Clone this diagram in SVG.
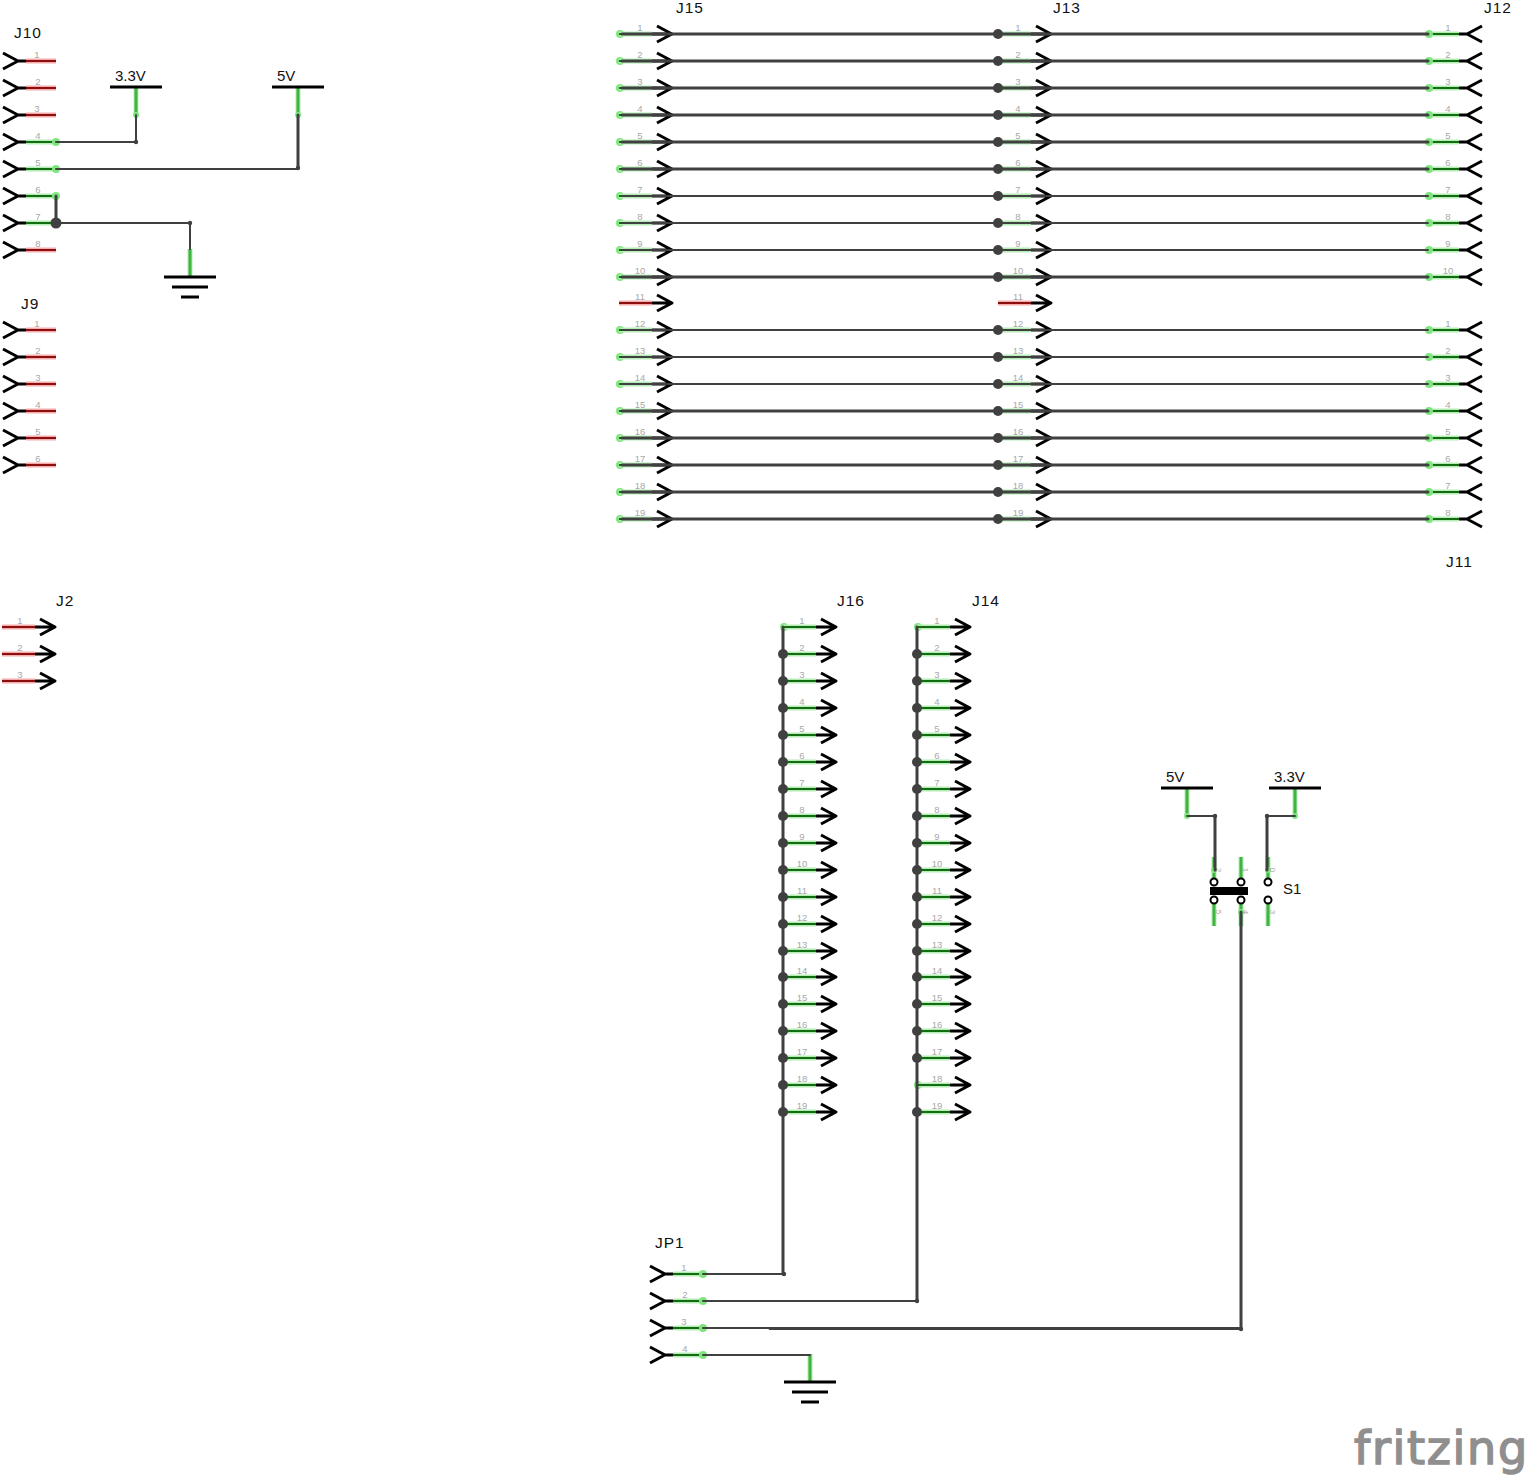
<svg xmlns="http://www.w3.org/2000/svg" width="1527" height="1476" viewBox="0 0 1527 1476">
<style>
text{font-family:"Liberation Sans",Arial,sans-serif}
.lbl{font-size:15.5px;fill:#111;letter-spacing:1px}
.v{font-size:15px;fill:#111}
.n{font-size:9.5px;fill:#a8a8a8;text-anchor:middle}
.sn{font-size:8px}
.w,.wt{stroke:#404040;fill:none;stroke-linecap:round;stroke-linejoin:round}
.w{stroke-width:3}
.wt{stroke-width:2}
.j{fill:#404040}
.k{stroke:#000;stroke-width:3;fill:none;stroke-linejoin:round}
.gg{stroke:#b4ecb4;stroke-width:5;fill:none}
.gc{stroke:#126d12;stroke-width:2;fill:none}
.rg{stroke:#f2aaaa;stroke-width:5;fill:none}
.rc{stroke:#8c0f0f;stroke-width:2;fill:none}
.gs{stroke:#3fb53f;stroke-width:3;fill:none}
.gh{stroke:#b4ecb4;stroke-width:5;fill:none}
.d{fill:#7fe67f}
.ring{fill:#fff;stroke:#000;stroke-width:2}
</style>
<defs>
<path id="aR" class="k" d="M33 0H52M38-8L53 0L38 8"/>
<path id="aL" class="k" d="M1-8L16 0L1 8M16 0H24"/>
<g id="gR"><path class="gg" d="M0 0H33"/><path class="gc" d="M0 0H33"/><use href="#aR"/></g>
<g id="gRd"><circle class="d" cx="1" cy="0" r="4"/><path class="gg" d="M0 0H33"/><path class="gc" d="M0 0H33"/><use href="#aR"/></g>
<g id="rR"><path class="rg" d="M0 0H33"/><path class="rc" d="M0 0H33"/><use href="#aR"/></g>
<g id="gL"><path class="gg" d="M24 0H54"/><path class="gc" d="M24 0H54"/><circle class="d" cx="54" cy="0" r="4"/><use href="#aL"/></g>
<g id="rL"><path class="rg" d="M24 0H54"/><path class="rc" d="M24 0H54"/><use href="#aL"/></g>
<g id="gnd"><path class="gh" d="M0-28V0"/><path class="gs" d="M0-28V0"/><path class="k" d="M-26 0H26M-18 10H18M-9 20H9"/></g>
<g id="pwr"><path class="gh" d="M0 0V28"/><path class="gs" d="M0 0V28"/><circle class="d" cx="0" cy="28" r="3"/><path class="k" d="M-26 0H26"/></g>
</defs>

<g id="J10">
<text class="lbl" x="14" y="37.500">J10</text>
<use href="#rL" x="2" y="61"/><use href="#rL" x="2" y="88"/><use href="#rL" x="2" y="115"/><use href="#gL" x="2" y="142"/><use href="#gL" x="2" y="169"/><use href="#gL" x="2" y="196"/><use href="#gL" x="2" y="223"/><use href="#rL" x="2" y="250"/>
<text class="n" x="37" y="58">1</text><text class="n" x="38" y="85">2</text><text class="n" x="37" y="112">3</text><text class="n" x="38" y="139">4</text><text class="n" x="38" y="166">5</text><text class="n" x="38" y="193">6</text><text class="n" x="38" y="220">7</text><text class="n" x="38" y="247">8</text>
</g>
<g id="V33a"><use href="#pwr" x="136" y="87"/><text class="v" x="115" y="81">3.3V</text></g>
<g id="V5a"><use href="#pwr" x="298" y="87"/><text class="v" x="277" y="81">5V</text></g>
<g id="GNDa"><use href="#gnd" x="190" y="277"/></g>

<g id="J9">
<text class="lbl" x="21" y="308.500">J9</text>
<use href="#rL" x="2" y="330"/><use href="#rL" x="2" y="357"/><use href="#rL" x="2" y="384"/><use href="#rL" x="2" y="411"/><use href="#rL" x="2" y="438"/><use href="#rL" x="2" y="465"/>
<text class="n" x="37" y="327">1</text><text class="n" x="38" y="354">2</text><text class="n" x="38" y="381">3</text><text class="n" x="38" y="408">4</text><text class="n" x="38" y="435">5</text><text class="n" x="38" y="462">6</text>
</g>

<g id="J2">
<text class="lbl" x="56" y="605.500">J2</text>
<use href="#rR" x="2" y="627"/><use href="#rR" x="2" y="654"/><use href="#rR" x="2" y="681"/>
<text class="n" x="20" y="624">1</text><text class="n" x="20" y="651">2</text><text class="n" x="20" y="678">3</text>
</g>

<g id="J15">
<text class="lbl" x="676" y="12.500">J15</text>
<use href="#gRd" x="619" y="34"/><use href="#gRd" x="619" y="61"/><use href="#gRd" x="619" y="88"/><use href="#gRd" x="619" y="115"/><use href="#gRd" x="619" y="142"/><use href="#gRd" x="619" y="169"/><use href="#gRd" x="619" y="196"/><use href="#gRd" x="619" y="223"/><use href="#gRd" x="619" y="250"/><use href="#gRd" x="619" y="277"/><use href="#rR" x="619" y="303"/><use href="#gRd" x="619" y="330"/><use href="#gRd" x="619" y="357"/><use href="#gRd" x="619" y="384"/><use href="#gRd" x="619" y="411"/><use href="#gRd" x="619" y="438"/><use href="#gRd" x="619" y="465"/><use href="#gRd" x="619" y="492"/><use href="#gRd" x="619" y="519"/>
<text class="n" x="640" y="31">1</text><text class="n" x="640" y="58">2</text><text class="n" x="640" y="85">3</text><text class="n" x="640" y="112">4</text><text class="n" x="640" y="139">5</text><text class="n" x="640" y="166">6</text><text class="n" x="640" y="193">7</text><text class="n" x="640" y="220">8</text><text class="n" x="640" y="247">9</text><text class="n" x="640" y="274">10</text><text class="n" x="640" y="300">11</text><text class="n" x="640" y="327">12</text><text class="n" x="640" y="354">13</text><text class="n" x="640" y="381">14</text><text class="n" x="640" y="408">15</text><text class="n" x="640" y="435">16</text><text class="n" x="640" y="462">17</text><text class="n" x="640" y="489">18</text><text class="n" x="640" y="516">19</text>
</g>

<g id="J13">
<text class="lbl" x="1053" y="12.500">J13</text>
<use href="#gR" x="998" y="34"/><use href="#gR" x="998" y="61"/><use href="#gR" x="998" y="88"/><use href="#gR" x="998" y="115"/><use href="#gR" x="998" y="142"/><use href="#gR" x="998" y="169"/><use href="#gR" x="998" y="196"/><use href="#gR" x="998" y="223"/><use href="#gR" x="998" y="250"/><use href="#gR" x="998" y="277"/><use href="#rR" x="998" y="303"/><use href="#gR" x="998" y="330"/><use href="#gR" x="998" y="357"/><use href="#gR" x="998" y="384"/><use href="#gR" x="998" y="411"/><use href="#gR" x="998" y="438"/><use href="#gR" x="998" y="465"/><use href="#gR" x="998" y="492"/><use href="#gR" x="998" y="519"/>
<text class="n" x="1018" y="31">1</text><text class="n" x="1018" y="58">2</text><text class="n" x="1018" y="85">3</text><text class="n" x="1018" y="112">4</text><text class="n" x="1018" y="139">5</text><text class="n" x="1018" y="166">6</text><text class="n" x="1018" y="193">7</text><text class="n" x="1018" y="220">8</text><text class="n" x="1018" y="247">9</text><text class="n" x="1018" y="274">10</text><text class="n" x="1018" y="300">11</text><text class="n" x="1018" y="327">12</text><text class="n" x="1018" y="354">13</text><text class="n" x="1018" y="381">14</text><text class="n" x="1018" y="408">15</text><text class="n" x="1018" y="435">16</text><text class="n" x="1018" y="462">17</text><text class="n" x="1018" y="489">18</text><text class="n" x="1018" y="516">19</text>
</g>

<g id="J12">
<text class="lbl" x="1484" y="12.500">J12</text>
<g transform="translate(1483 0) scale(-1 1)"><use href="#gL" x="0" y="34"/><use href="#gL" x="0" y="61"/><use href="#gL" x="0" y="88"/><use href="#gL" x="0" y="115"/><use href="#gL" x="0" y="142"/><use href="#gL" x="0" y="169"/><use href="#gL" x="0" y="196"/><use href="#gL" x="0" y="223"/><use href="#gL" x="0" y="250"/><use href="#gL" x="0" y="277"/></g>
<text class="n" x="1448" y="31">1</text><text class="n" x="1448" y="58">2</text><text class="n" x="1448" y="85">3</text><text class="n" x="1448" y="112">4</text><text class="n" x="1448" y="139">5</text><text class="n" x="1448" y="166">6</text><text class="n" x="1448" y="193">7</text><text class="n" x="1448" y="220">8</text><text class="n" x="1448" y="247">9</text><text class="n" x="1448" y="274">10</text>
</g>

<g id="J11">
<text class="lbl" x="1446" y="566.500">J11</text>
<g transform="translate(1483 0) scale(-1 1)"><use href="#gL" x="0" y="330"/><use href="#gL" x="0" y="357"/><use href="#gL" x="0" y="384"/><use href="#gL" x="0" y="411"/><use href="#gL" x="0" y="438"/><use href="#gL" x="0" y="465"/><use href="#gL" x="0" y="492"/><use href="#gL" x="0" y="519"/></g>
<text class="n" x="1448" y="327">1</text><text class="n" x="1448" y="354">2</text><text class="n" x="1448" y="381">3</text><text class="n" x="1448" y="408">4</text><text class="n" x="1448" y="435">5</text><text class="n" x="1448" y="462">6</text><text class="n" x="1448" y="489">7</text><text class="n" x="1448" y="516">8</text>
</g>

<g id="J16">
<text class="lbl" x="837" y="605.500">J16</text>
<use href="#gRd" x="783" y="627"/><use href="#gR" x="783" y="654"/><use href="#gR" x="783" y="681"/><use href="#gR" x="783" y="708"/><use href="#gR" x="783" y="735"/><use href="#gR" x="783" y="762"/><use href="#gR" x="783" y="789"/><use href="#gR" x="783" y="816"/><use href="#gR" x="783" y="843"/><use href="#gR" x="783" y="870"/><use href="#gR" x="783" y="897"/><use href="#gR" x="783" y="924"/><use href="#gR" x="783" y="951"/><use href="#gR" x="783" y="977"/><use href="#gR" x="783" y="1004"/><use href="#gR" x="783" y="1031"/><use href="#gR" x="783" y="1058"/><use href="#gR" x="783" y="1085"/><use href="#gR" x="783" y="1112"/>
<text class="n" x="802" y="624">1</text><text class="n" x="802" y="651">2</text><text class="n" x="802" y="678">3</text><text class="n" x="802" y="705">4</text><text class="n" x="802" y="732">5</text><text class="n" x="802" y="759">6</text><text class="n" x="802" y="786">7</text><text class="n" x="802" y="813">8</text><text class="n" x="802" y="840">9</text><text class="n" x="802" y="867">10</text><text class="n" x="802" y="894">11</text><text class="n" x="802" y="921">12</text><text class="n" x="802" y="948">13</text><text class="n" x="802" y="974">14</text><text class="n" x="802" y="1001">15</text><text class="n" x="802" y="1028">16</text><text class="n" x="802" y="1055">17</text><text class="n" x="802" y="1082">18</text><text class="n" x="802" y="1109">19</text>
</g>

<g id="J14">
<text class="lbl" x="972" y="605.500">J14</text>
<use href="#gRd" x="917" y="627"/><use href="#gR" x="917" y="654"/><use href="#gR" x="917" y="681"/><use href="#gR" x="917" y="708"/><use href="#gR" x="917" y="735"/><use href="#gR" x="917" y="762"/><use href="#gR" x="917" y="789"/><use href="#gR" x="917" y="816"/><use href="#gR" x="917" y="843"/><use href="#gR" x="917" y="870"/><use href="#gR" x="917" y="897"/><use href="#gR" x="917" y="924"/><use href="#gR" x="917" y="951"/><use href="#gR" x="917" y="977"/><use href="#gR" x="917" y="1004"/><use href="#gR" x="917" y="1031"/><use href="#gR" x="917" y="1058"/><use href="#gRd" x="917" y="1085"/><use href="#gR" x="917" y="1112"/>
<text class="n" x="937" y="624">1</text><text class="n" x="937" y="651">2</text><text class="n" x="937" y="678">3</text><text class="n" x="937" y="705">4</text><text class="n" x="937" y="732">5</text><text class="n" x="937" y="759">6</text><text class="n" x="937" y="786">7</text><text class="n" x="937" y="813">8</text><text class="n" x="937" y="840">9</text><text class="n" x="937" y="867">10</text><text class="n" x="937" y="894">11</text><text class="n" x="937" y="921">12</text><text class="n" x="937" y="948">13</text><text class="n" x="937" y="974">14</text><text class="n" x="937" y="1001">15</text><text class="n" x="937" y="1028">16</text><text class="n" x="937" y="1055">17</text><text class="n" x="937" y="1082">18</text><text class="n" x="937" y="1109">19</text>
</g>

<g id="JP1">
<text class="lbl" x="655" y="1247.500">JP1</text>
<use href="#gL" x="649" y="1274"/><use href="#gL" x="649" y="1301"/><use href="#gL" x="649" y="1328"/><use href="#gL" x="649" y="1355"/>
<text class="n" x="684" y="1271">1</text><text class="n" x="685" y="1298">2</text><text class="n" x="684" y="1325">3</text><text class="n" x="685" y="1352">4</text>
</g>
<g id="GNDb"><use href="#gnd" x="810" y="1382"/></g>
<g id="V5b"><use href="#pwr" x="1187" y="788"/><text class="v" x="1166" y="782">5V</text></g>
<g id="V33b"><use href="#pwr" x="1295" y="788"/><text class="v" x="1274" y="782">3.3V</text></g>

<g id="S1">
<path class="gh" d="M1214 857V878M1241 857V878M1268 857V878M1214 904V926M1241 904V926M1268 904V926"/>
<path class="gs" d="M1214 857V878M1241 857V878M1268 857V878M1214 904V926M1241 904V926M1268 904V926"/>
<circle class="d" cx="1214" cy="870" r="3"/><circle class="d" cx="1268" cy="870" r="3"/><circle class="d" cx="1241" cy="912" r="3"/>
<circle class="ring" cx="1214" cy="882" r="3.5"/><circle class="ring" cx="1241" cy="882" r="3.5"/><circle class="ring" cx="1268" cy="882" r="3.5"/><circle class="ring" cx="1214" cy="900" r="3.5"/><circle class="ring" cx="1241" cy="900" r="3.5"/><circle class="ring" cx="1268" cy="900" r="3.5"/>
<rect x="1210" y="887" width="38" height="8" fill="#000"/>
<text class="v" x="1283" y="894">S1</text>
<text class="n sn" transform="rotate(90 1216 870)" x="1216" y="870">2</text>
<text class="n sn" transform="rotate(90 1243 870)" x="1243" y="870">1</text>
<text class="n sn" transform="rotate(90 1270 870)" x="1270" y="870">0</text>
<text class="n sn" transform="rotate(90 1216 912)" x="1216" y="912">5</text>
<text class="n sn" transform="rotate(90 1243 912)" x="1243" y="912">4</text>
<text class="n sn" transform="rotate(90 1270 912)" x="1270" y="912">3</text>
</g>

<g id="connectors">
<path class="wt" d="M56 142H136V115"/>
<path class="w" d="M298 115V168"/><path class="wt" d="M56 169H298"/>
<path class="w" d="M56 196V223"/><path class="wt" d="M56 223H190V249"/>
<circle class="j" cx="136" cy="142" r="2.2"/><circle class="j" cx="298" cy="168" r="2.2"/><circle class="j" cx="190" cy="223" r="2.2"/><circle class="j" cx="56" cy="223" r="5.5"/>
<g class="w">
<path d="M622 34H1428M622 61H1428M622 88H1428M622 115H1428M622 142H1428M622 169H1428"/>
<path d="M622 277H1428M622 411H1428M622 438H1428M622 465H1428M622 492H1428M622 519H1428"/>
</g>
<g class="wt">
<path d="M622 196H1428M622 223H1428M622 250H1428M622 330H1428M622 357H1428M622 384H1428"/>
</g>
<g class="j">
<circle cx="998" cy="34" r="5"/><circle cx="998" cy="61" r="5"/><circle cx="998" cy="88" r="5"/><circle cx="998" cy="115" r="5"/><circle cx="998" cy="142" r="5"/><circle cx="998" cy="169" r="5"/><circle cx="998" cy="196" r="5"/><circle cx="998" cy="223" r="5"/><circle cx="998" cy="250" r="5"/><circle cx="998" cy="277" r="5"/><circle cx="998" cy="330" r="5"/><circle cx="998" cy="357" r="5"/><circle cx="998" cy="384" r="5"/><circle cx="998" cy="411" r="5"/><circle cx="998" cy="438" r="5"/><circle cx="998" cy="465" r="5"/><circle cx="998" cy="492" r="5"/><circle cx="998" cy="519" r="5"/>
</g>
<path class="w" d="M783 627V1274"/><path class="w" d="M917 627V1301"/>
<path class="wt" d="M703 1274H784"/><path class="wt" d="M703 1301H917"/><path class="wt" d="M703 1328H1241"/><path class="w" d="M770 1328.500H1241V912"/><path class="wt" d="M703 1355H810"/>
<circle class="j" cx="784" cy="1274" r="2.2"/><circle class="j" cx="917" cy="1301" r="2.2"/><circle class="j" cx="1241" cy="1329" r="2.2"/>
<g class="j">
<circle cx="783" cy="654" r="5"/><circle cx="783" cy="681" r="5"/><circle cx="783" cy="708" r="5"/><circle cx="783" cy="735" r="5"/><circle cx="783" cy="762" r="5"/><circle cx="783" cy="789" r="5"/><circle cx="783" cy="816" r="5"/><circle cx="783" cy="843" r="5"/><circle cx="783" cy="870" r="5"/><circle cx="783" cy="897" r="5"/><circle cx="783" cy="924" r="5"/><circle cx="783" cy="951" r="5"/><circle cx="783" cy="977" r="5"/><circle cx="783" cy="1004" r="5"/><circle cx="783" cy="1031" r="5"/><circle cx="783" cy="1058" r="5"/><circle cx="783" cy="1085" r="5"/><circle cx="783" cy="1112" r="5"/>
<circle cx="917" cy="654" r="5"/><circle cx="917" cy="681" r="5"/><circle cx="917" cy="708" r="5"/><circle cx="917" cy="735" r="5"/><circle cx="917" cy="762" r="5"/><circle cx="917" cy="789" r="5"/><circle cx="917" cy="816" r="5"/><circle cx="917" cy="843" r="5"/><circle cx="917" cy="870" r="5"/><circle cx="917" cy="897" r="5"/><circle cx="917" cy="924" r="5"/><circle cx="917" cy="951" r="5"/><circle cx="917" cy="977" r="5"/><circle cx="917" cy="1004" r="5"/><circle cx="917" cy="1031" r="5"/><circle cx="917" cy="1058" r="5"/><circle cx="917" cy="1112" r="5"/>
</g>
<path class="wt" d="M1187 816H1215"/><path class="w" d="M1215 816V870"/><path class="wt" d="M1295 816H1267"/><path class="w" d="M1267 816V870"/>
<circle class="j" cx="1215" cy="816" r="2.2"/><circle class="j" cx="1267" cy="816" r="2.2"/>
</g>

<g id="watermark">
<text x="1354" y="1464" style="font-family:'DejaVu Sans',sans-serif;font-size:46px;fill:#8f8f8f;stroke:#8f8f8f;stroke-width:1.5px;letter-spacing:1.7px">fritzing</text>
</g>
</svg>
